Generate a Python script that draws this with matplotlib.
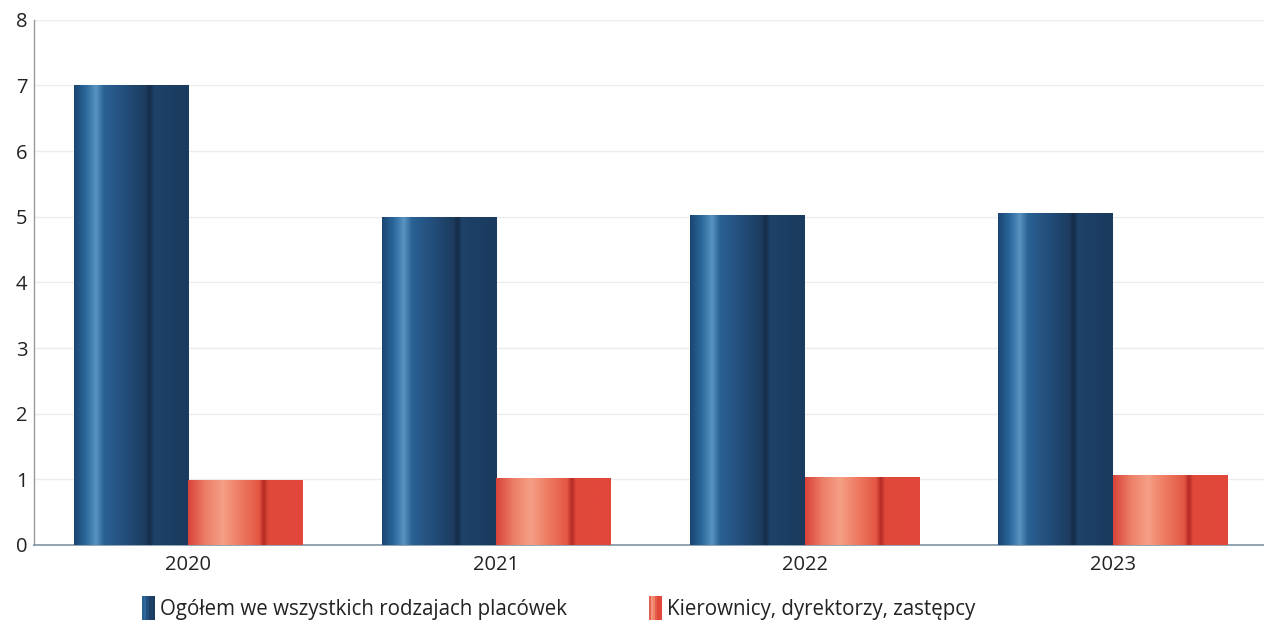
import matplotlib
matplotlib.use("Agg")
import matplotlib.pyplot as plt
import numpy as np
from matplotlib.colors import LinearSegmentedColormap
from matplotlib.patches import Patch, Rectangle
from matplotlib.legend_handler import HandlerPatch

years = ["2020", "2021", "2022", "2023"]
ogolem = [7.0, 5.0, 5.03, 5.06]
kierownicy = [0.99, 1.02, 1.04, 1.07]
series_labels = ["Ogółem we wszystkich rodzajach placówek", "Kierownicy, dyrektorzy, zastępcy"]

blue_cmap = LinearSegmentedColormap.from_list("b", [
    (0.0, "#1b4573"), (0.1, "#2a679b"), (0.19, "#5894c2"), (0.26, "#2a6194"),
    (0.45, "#224d7a"), (0.62, "#1d3c5f"), (0.66, "#152c47"), (0.7, "#1f4269"),
    (1.0, "#1a3a5e")])
red_cmap = LinearSegmentedColormap.from_list("r", [
    (0.0, "#d8433a"), (0.15, "#ec7d66"), (0.3, "#f5a086"), (0.45, "#ee7c63"),
    (0.62, "#e35644"), (0.66, "#b52a25"), (0.7, "#e04a3a"), (1.0, "#e2463a")])

fig = plt.figure(figsize=(12.64, 6.2), dpi=100)
ax = fig.add_axes([0.027, 0.121, 0.973, 0.847])

x = np.arange(len(years))
w = 0.372
grad = np.linspace(0, 1, 256).reshape(1, -1)

def gradient_bars(vals, offset, cmap, zorder):
    bars = ax.bar(x + offset, vals, w, color="none", edgecolor="none", zorder=zorder)
    for b in bars:
        x0, y0 = b.get_x(), b.get_y()
        im = ax.imshow(grad, cmap=cmap, aspect="auto",
                       extent=[x0, x0 + b.get_width(), y0, y0 + b.get_height()],
                       zorder=zorder, interpolation="bilinear")
        im.set_clip_path(b)
    return bars

gradient_bars(ogolem, -w / 2, blue_cmap, 3)
gradient_bars(kierownicy, w / 2, red_cmap, 3)

ax.set_xlim(-0.5, 3.49)
ax.set_ylim(0, 8)
ax.set_yticks(range(0, 9))
ax.set_xticks(x)
ax.set_xticklabels(years)
ax.grid(axis="y", color="#ececec", linewidth=1.0, zorder=0)
ax.set_axisbelow(True)
for s in ["top", "right"]:
    ax.spines[s].set_visible(False)
ax.spines["left"].set_color("#9a9a9a")
ax.spines["bottom"].set_color("#7f93a6")
ax.spines["left"].set_linewidth(1.0)
ax.spines["bottom"].set_linewidth(1.2)
ax.tick_params(axis="both", length=0, labelsize=14.5, colors="#222222")
ax.tick_params(axis="x", pad=7)
ax.tick_params(axis="y", pad=13)
for lab in ax.get_xticklabels():
    lab.set_family("Open Sans")
for lab in ax.get_yticklabels():
    lab.set_family("Open Sans")
    lab.set_horizontalalignment("left")

class GradHandler(HandlerPatch):
    def __init__(self, cmap):
        super().__init__()
        self.cmap = cmap
    def create_artists(self, legend, orig_handle, xdescent, ydescent, width, height, fontsize, trans):
        arts = []
        n = 6
        wd = width / n
        for i in range(n):
            r = Rectangle((-xdescent + i * wd, -ydescent - 2), wd + 0.3, height + 4,
                          facecolor=self.cmap((i + 0.5) / n), edgecolor="none", transform=trans)
            arts.append(r)
        return arts

h1 = Patch(label=series_labels[0])
h2 = Patch(label=series_labels[1])
leg = fig.legend(handles=[h1, h2], loc="lower left", bbox_to_anchor=(0.098, -0.03),
                 ncol=2, frameon=False, handlelength=0.6, handleheight=1.0,
                 handletextpad=0.25, columnspacing=4.0,
                 handler_map={h1: GradHandler(blue_cmap), h2: GradHandler(red_cmap)},
                 prop={"family": "Open Sans", "size": 14.8})
for t in leg.get_texts():
    t.set_color("#222222")

fig.savefig("out.png", dpi=100)
